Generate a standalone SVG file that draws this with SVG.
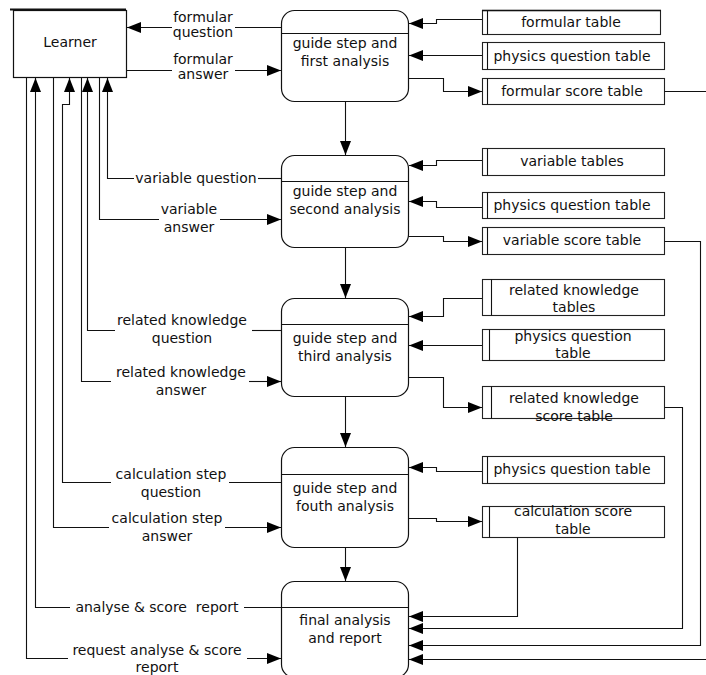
<svg xmlns="http://www.w3.org/2000/svg" width="706" height="675" viewBox="0 0 706 675">
<defs>
<marker id="ah" markerUnits="userSpaceOnUse" markerWidth="15" markerHeight="12" refX="14" refY="5.5" orient="auto">
<path d="M0,0 L14,5.5 L0,11 z" fill="#000"/>
</marker>
<style>
text{font-family:"DejaVu Sans","Liberation Sans",sans-serif;font-size:14px;fill:#111}
.t{text-anchor:middle}
.box{fill:#fff;stroke:#111;stroke-width:1.2}
.ln{fill:none;stroke:#111;stroke-width:1.1}
.arr{fill:none;stroke:#111;stroke-width:1.1;marker-end:url(#ah)}
.st{fill:#fff;stroke:#222;stroke-width:1.1}
</style>
</defs>
<rect width="706" height="675" fill="#fff"/>

<g id="learner">
<rect class="box" x="13.5" y="10.5" width="113" height="67"/>
<line x1="10" y1="9.5" x2="126" y2="9.5" stroke="#111" stroke-width="2"/>
<text class="t" x="70" y="47">Learner</text>
</g>

<g id="p1">
<rect class="box" x="281.5" y="10.5" width="127" height="91" rx="13"/>
<line class="ln" x1="281.5" y1="33.5" x2="408.5" y2="33.5"/>
<text class="t" x="345" y="48">guide step and</text>
<text class="t" x="345" y="66">first analysis</text>
</g>
<g id="p2">
<rect class="box" x="281.5" y="155.5" width="127" height="92" rx="13"/>
<line class="ln" x1="281.5" y1="181.5" x2="408.5" y2="181.5"/>
<text class="t" x="345" y="196">guide step and</text>
<text class="t" x="345" y="214">second analysis</text>
</g>
<g id="p3">
<rect class="box" x="281.5" y="298.5" width="127" height="98" rx="13"/>
<line class="ln" x1="281.5" y1="324.5" x2="408.5" y2="324.5"/>
<text class="t" x="345" y="343">guide step and</text>
<text class="t" x="345" y="361">third analysis</text>
</g>
<g id="p4">
<rect class="box" x="281.5" y="447.5" width="127" height="100" rx="13"/>
<line class="ln" x1="281.5" y1="474.5" x2="408.5" y2="474.5"/>
<text class="t" x="345" y="493">guide step and</text>
<text class="t" x="345" y="511">fouth analysis</text>
</g>
<g id="p5">
<rect class="box" x="281.5" y="581.5" width="127" height="96" rx="13"/>
<line class="ln" x1="281.5" y1="607.5" x2="408.5" y2="607.5"/>
<text class="t" x="345" y="625">final analysis</text>
<text class="t" x="345" y="643">and report</text>
</g>

<g id="t1"><rect class="st" x="482.5" y="10.5" width="178" height="24"/><line class="ln" x1="487.5" y1="10.5" x2="487.5" y2="34.5"/><line x1="482" y1="10.5" x2="661" y2="10.5" stroke="#111" stroke-width="1.6"/><text class="t" x="571" y="27">formular table</text></g>
<g id="t2"><rect class="st" x="482.5" y="42.5" width="182" height="27"/><line class="ln" x1="487.5" y1="42.5" x2="487.5" y2="69.5"/><text class="t" x="572" y="61">physics question table</text></g>
<g id="t3"><rect class="st" x="482.5" y="78.5" width="182" height="26"/><line class="ln" x1="487.5" y1="78.5" x2="487.5" y2="104.5"/><text class="t" x="572" y="96">formular score table</text></g>
<g id="t4"><rect class="st" x="482.5" y="148.5" width="182" height="27"/><line class="ln" x1="487.5" y1="148.5" x2="487.5" y2="175.5"/><text class="t" x="572" y="166">variable tables</text></g>
<g id="t5"><rect class="st" x="482.5" y="192.5" width="182" height="26"/><line class="ln" x1="487.5" y1="192.5" x2="487.5" y2="218.5"/><text class="t" x="572" y="210">physics question table</text></g>
<g id="t6"><rect class="st" x="482.5" y="227.5" width="182" height="27"/><line class="ln" x1="487.5" y1="227.5" x2="487.5" y2="254.5"/><text class="t" x="572" y="245">variable score table</text></g>
<g id="t7"><rect class="st" x="482.5" y="279.5" width="182" height="36"/><line class="ln" x1="491.5" y1="279.5" x2="491.5" y2="315.5"/><text class="t" x="574" y="295">related knowledge</text><text class="t" x="574" y="312">tables</text></g>
<g id="t8"><rect class="st" x="482.5" y="329.5" width="182" height="31"/><line class="ln" x1="489.5" y1="329.5" x2="489.5" y2="360.5"/><text class="t" x="573" y="341">physics question</text><text class="t" x="573" y="358">table</text></g>
<g id="t9"><rect class="st" x="482.5" y="386.5" width="182" height="32"/><line class="ln" x1="491.5" y1="386.5" x2="491.5" y2="418.5"/><text class="t" x="574" y="403">related knowledge</text><text class="t" x="574" y="421">score table</text></g>
<g id="t10"><rect class="st" x="482.5" y="456.5" width="182" height="27"/><line class="ln" x1="487.5" y1="456.5" x2="487.5" y2="483.5"/><text class="t" x="572" y="474">physics question table</text></g>
<g id="t11"><rect class="st" x="482.5" y="506.5" width="182" height="31"/><line class="ln" x1="489.5" y1="506.5" x2="489.5" y2="537.5"/><text class="t" x="573" y="516">calculation score</text><text class="t" x="573" y="534">table</text></g>

<g id="connectors">
<path class="arr" d="M345.5,101.5 V155"/>
<path class="arr" d="M345.5,247.5 V298"/>
<path class="arr" d="M345.5,396.5 V447"/>
<path class="arr" d="M345.5,547.5 V581"/>
<path class="arr" d="M482,19.5 H436.5 V23.5 H409"/>
<path class="arr" d="M482,55.5 H409"/>
<path class="arr" d="M408.5,78.5 H443.5 V91.5 H482"/>
<path class="arr" d="M482,160.5 H436.5 V165.5 H409"/>
<path class="arr" d="M482,207.5 H436.5 V201.5 H409"/>
<path class="arr" d="M408.5,236.5 H443.5 V241.5 H482"/>
<path class="arr" d="M482,298.5 H443.5 V316.5 H409"/>
<path class="arr" d="M482,345.5 H409"/>
<path class="arr" d="M408.5,377.5 H443.5 V407.5 H482"/>
<path class="arr" d="M482,471.5 H436.5 V467.5 H409"/>
<path class="arr" d="M408.5,518.5 H436.5 V521.5 H482"/>
<path class="arr" d="M517.5,537.5 V616.5 H409" stroke="#444"/>
<path class="arr" d="M664.5,407.5 H682.5 V628.5 H409"/>
<path class="arr" d="M664.5,241.5 H700.5 V645.5 H409"/>
<path class="ln" d="M664.5,91.5 H706"/>
<path class="arr" d="M706,659.5 H409"/>
<path class="ln" d="M281,27.5 H235"/>
<path class="arr" d="M172,27.5 H127"/>
<path class="ln" d="M126.5,70.5 H172"/>
<path class="arr" d="M235,70.5 H281"/>
<path class="ln" d="M281,178.5 H258"/>
<path class="arr" d="M134,178.5 H107.5 V78"/>
<path class="ln" d="M99.5,78 V219.5 H159"/>
<path class="arr" d="M220,219.5 H281"/>
<path class="ln" d="M281,330.5 H252"/>
<path class="arr" d="M115,330.5 H87.5 V78"/>
<path class="ln" d="M81.5,78 V381.5 H111"/>
<path class="arr" d="M249,381.5 H281"/>
<path class="ln" d="M281,482.5 H229"/>
<path class="arr" d="M111,482.5 H62.5 V104.5 H69.5 V78"/>
<path class="ln" d="M53.5,78 V527.5 H109"/>
<path class="arr" d="M225,527.5 H281"/>
<path class="ln" d="M281,607.5 H244"/>
<path class="arr" d="M70,607.5 H35.5 V78"/>
<path class="ln" d="M26.5,78 V658.5 H68"/>
<path class="arr" d="M247,658.5 H281"/>
</g>

<g id="labels">
<text class="t" x="203" y="22">formular</text>
<text class="t" x="203" y="37">question</text>
<text class="t" x="203" y="64">formular</text>
<text class="t" x="203" y="79">answer</text>
<text class="t" x="196" y="183">variable question</text>
<text class="t" x="189" y="214">variable</text>
<text class="t" x="189" y="232">answer</text>
<text class="t" x="182" y="325">related knowledge</text>
<text class="t" x="182" y="343">question</text>
<text class="t" x="181" y="377">related knowledge</text>
<text class="t" x="181" y="395">answer</text>
<text class="t" x="171" y="479">calculation step</text>
<text class="t" x="171" y="497">question</text>
<text class="t" x="167" y="523">calculation step</text>
<text class="t" x="167" y="541">answer</text>
<text class="t" x="157" y="612" style="white-space:pre" xml:space="preserve">analyse &amp; score  report</text>
<text class="t" x="157" y="655">request analyse &amp; score</text>
<text class="t" x="157" y="672">report</text>
</g>
</svg>
